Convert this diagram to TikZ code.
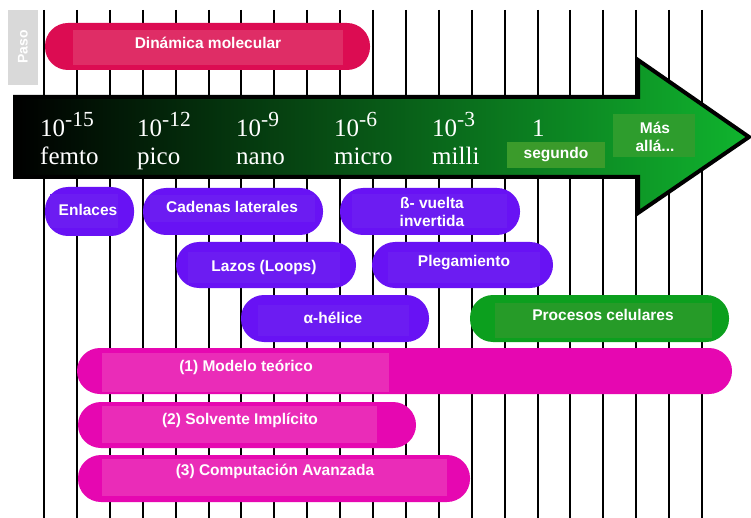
\documentclass[tikz,border=0pt]{standalone}
\usepackage{fontspec}
\setmainfont{Liberation Serif}
\setsansfont{Liberation Sans}
\definecolor{gridink}{HTML}{000000}
\definecolor{crimson}{HTML}{DC0C52}
\definecolor{crimsonin}{HTML}{DF2D66}
\definecolor{violet}{HTML}{6812F4}
\definecolor{violetin}{HTML}{6C1CF2}
\definecolor{leaf}{HTML}{0C9F1E}
\definecolor{leafin}{HTML}{269B28}
\definecolor{magent}{HTML}{E607B1}
\definecolor{magentin}{HTML}{EA2CB8}
\definecolor{arrowend}{HTML}{10B42E}
\definecolor{secbox}{HTML}{3B9B2B}
\definecolor{beyondbox}{HTML}{2E9D2D}
\definecolor{pasogray}{HTML}{D9D9D9}
\newcommand\sclexp[1]{\raisebox{10.5pt}{\fontsize{21.5}{21.5}\selectfont #1}}
\newcommand\pillbar[9]{%
  \fill[pillshape,#5] (#1,#2) rectangle (#3,#4);
  \fill[#6] (#7,#8) rectangle (#9);}
\begin{document}
\begin{tikzpicture}[x=1pt,y=-1pt,
  gridline/.style={draw=gridink,line width=2pt},
  pillshape/.style={rounded corners=23pt},
  lbl/.style={text=white,font=\sffamily\bfseries\fontsize{15.5}{18}\selectfont,inner sep=0pt,align=center},
  tick/.style={anchor=base west,text=white,font=\fontsize{25}{25}\selectfont,inner sep=0pt}]
\useasboundingbox (0,0) rectangle (751,518);
\fill[white] (0,0) rectangle (751,518);

% vertical time grid
\foreach \i in {0,...,20}
  \draw[gridline] (44+32.9*\i,10) -- (44+32.9*\i,518);

% "Paso" tab
\fill[pasogray] (8,10) rectangle (38,85);
\node[lbl,rotate=90,font=\sffamily\bfseries\fontsize{14}{16}\selectfont] (paso) at (23,47) {Paso};

% time-scale arrow
\shade[left color=black,right color=arrowend,draw=black,line width=4pt,line join=miter]
  (15,97) -- (638,97) -- (638,60) -- (749,137) -- (638,213) -- (638,177) -- (15,177) -- cycle;

\node[tick] (e15) at (40,137) {10\sclexp{-15}};
\node[tick] (femto) at (40,165) {femto};
\node[tick] (e12) at (137,137) {10\sclexp{-12}};
\node[tick] (pico) at (137,165) {pico};
\node[tick] (e9) at (236,137) {10\sclexp{-9}};
\node[tick] (nano) at (236,165) {nano};
\node[tick] (e6) at (334,137) {10\sclexp{-6}};
\node[tick] (micro) at (334,165) {micro};
\node[tick] (e3) at (432,137) {10\sclexp{-3}};
\node[tick] (milli) at (432,165) {milli};
\node[tick] (e0) at (532,137) {1};
\fill[secbox] (507,142) rectangle (605,168);
\node[lbl] (seg) at (556,155) {segundo};
\fill[beyondbox] (613,114) rectangle (695,157);
\node[lbl] (beyond) at (655,137) {Más\\allá...};

% simulation method
\pillbar{45}{23}{370}{70}{crimson}{crimsonin}{73}{30}{343,65}
\node[lbl] (md) at (208,43) {Dinámica molecular};

% structural events
\pillbar{45}{187}{134}{236}{violet}{violetin}{50}{194}{118,228}
\node[lbl] (enl) at (88,210) {Enlaces};
\pillbar{143}{188}{323}{235}{violet}{violetin}{150}{195}{315,222}
\node[lbl] (cad) at (232,207) {Cadenas laterales};
\pillbar{176}{242}{356}{288}{violet}{violetin}{188}{252}{340,283}
\node[lbl] (laz) at (264,267) {Lazos (Loops)};
\pillbar{241}{295}{429}{342}{violet}{violetin}{258}{305}{409,336}
\node[lbl] (alf) at (333,318) {α-hélice};
\pillbar{340}{188}{520}{235}{violet}{violetin}{352}{194}{507,228}
\node[lbl] (bet) at (432,212) {ß- vuelta\\invertida};
\pillbar{372}{242}{553}{288}{violet}{violetin}{388}{252}{540,283}
\node[lbl] (pleg) at (464,263) {Plegamiento};
\pillbar{470}{295}{729}{342}{leaf}{leafin}{495}{303}{712,338}
\node[lbl] (proc) at (603,315) {Procesos celulares};

% modelling approaches
\pillbar{77}{348}{732}{394}{magent}{magentin}{102}{353}{389,392}
\node[lbl] (m1) at (246,367) {(1) Modelo teórico};
\pillbar{78}{402}{416}{448}{magent}{magentin}{102}{406}{377,443}
\node[lbl] (m2) at (240,420) {(2) Solvente Implícito};
\pillbar{78}{455}{470}{502}{magent}{magentin}{102}{459}{447,496}
\node[lbl] (m3) at (275,471) {(3) Computación Avanzada};
\end{tikzpicture}
\end{document}
